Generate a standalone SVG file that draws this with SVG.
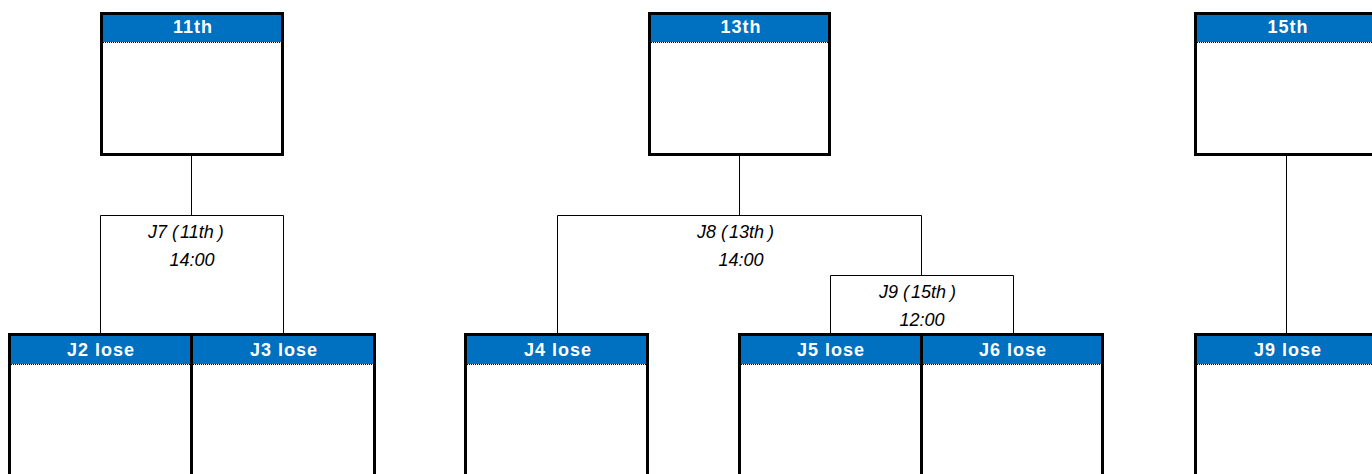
<svg xmlns="http://www.w3.org/2000/svg" width="1372" height="474" viewBox="0 0 1372 474">
<style>
.box{fill:#fff;stroke:#000;stroke-width:3}
.hd{fill:#0070C0}
.dot{stroke:#000;stroke-width:1;stroke-dasharray:1 1}
.ht{font-family:"Liberation Sans",Arial,sans-serif;font-weight:bold;font-size:18px;fill:#fff;text-anchor:middle;letter-spacing:1px}
.con{fill:none;stroke:#000;stroke-width:1}
.lb{font-family:"Liberation Sans",Arial,sans-serif;font-style:italic;font-size:18px;fill:#000;text-anchor:middle}
.ls{font-family:"Liberation Sans",Arial,sans-serif;font-style:italic;font-size:18px;fill:#000}
</style>
<rect width="1372" height="474" fill="#fff"/>
<g id="connectors">
<path class="con" d="M191.5 156V215.5M100.5 333V215.5H283.5V333"/>
<path class="con" d="M739.5 156V215.5M557.5 333V215.5H921.5V275.5M830.5 333V275.5H1013.5V333"/>
<path class="con" d="M1286.5 156V333"/>
<text class="ls" x="148" y="238">J7<tspan dx="5">(</tspan><tspan dx="2">11th</tspan><tspan dx="4">)</tspan></text>
<text class="lb" x="192" y="266">14:00</text>
<text class="ls" x="697" y="238">J8<tspan dx="5">(</tspan><tspan dx="2">13th</tspan><tspan dx="4">)</tspan></text>
<text class="lb" x="741" y="266">14:00</text>
<text class="ls" x="879" y="298">J9<tspan dx="5">(</tspan><tspan dx="2">15th</tspan><tspan dx="4">)</tspan></text>
<text class="lb" x="922" y="326">12:00</text>
</g>
<g id="n11th">
<rect class="box" x="101.5" y="13.5" width="181" height="141"/>
<rect class="hd" x="103" y="15" width="178" height="27"/>
<line class="dot" x1="103" y1="42.5" x2="281" y2="42.5"/>
<text class="ht" x="193" y="33">11th</text>
</g>
<g id="n13th">
<rect class="box" x="649.5" y="13.5" width="180" height="141"/>
<rect class="hd" x="651" y="15" width="177" height="27"/>
<line class="dot" x1="651" y1="42.5" x2="828" y2="42.5"/>
<text class="ht" x="741" y="33">13th</text>
</g>
<g id="n15th">
<rect class="box" x="1195.5" y="13.5" width="190" height="141"/>
<rect class="hd" x="1197" y="15" width="180" height="27"/>
<line class="dot" x1="1197" y1="42.5" x2="1372" y2="42.5"/>
<text class="ht" x="1288" y="33">15th</text>
</g>
<g id="nJ2">
<rect class="box" x="9.5" y="334.5" width="182" height="150"/>
<rect class="hd" x="11" y="336" width="179" height="28"/>
<line class="dot" x1="11" y1="364.5" x2="190" y2="364.5"/>
<text class="ht" x="101" y="356">J2 lose</text>
</g>
<g id="nJ3">
<rect class="box" x="191.5" y="334.5" width="183" height="150"/>
<rect class="hd" x="193" y="336" width="180" height="28"/>
<line class="dot" x1="193" y1="364.5" x2="373" y2="364.5"/>
<text class="ht" x="284" y="356">J3 lose</text>
</g>
<g id="nJ4">
<rect class="box" x="465.5" y="334.5" width="182" height="150"/>
<rect class="hd" x="467" y="336" width="179" height="28"/>
<line class="dot" x1="467" y1="364.5" x2="646" y2="364.5"/>
<text class="ht" x="558" y="356">J4 lose</text>
</g>
<g id="nJ5">
<rect class="box" x="739.5" y="334.5" width="182" height="150"/>
<rect class="hd" x="741" y="336" width="179" height="28"/>
<line class="dot" x1="741" y1="364.5" x2="920" y2="364.5"/>
<text class="ht" x="831" y="356">J5 lose</text>
</g>
<g id="nJ6">
<rect class="box" x="921.5" y="334.5" width="181" height="150"/>
<rect class="hd" x="923" y="336" width="178" height="28"/>
<line class="dot" x1="923" y1="364.5" x2="1101" y2="364.5"/>
<text class="ht" x="1013" y="356">J6 lose</text>
</g>
<g id="nJ9">
<rect class="box" x="1195.5" y="334.5" width="190" height="150"/>
<rect class="hd" x="1197" y="336" width="180" height="28"/>
<line class="dot" x1="1197" y1="364.5" x2="1372" y2="364.5"/>
<text class="ht" x="1288" y="356">J9 lose</text>
</g>
</svg>
